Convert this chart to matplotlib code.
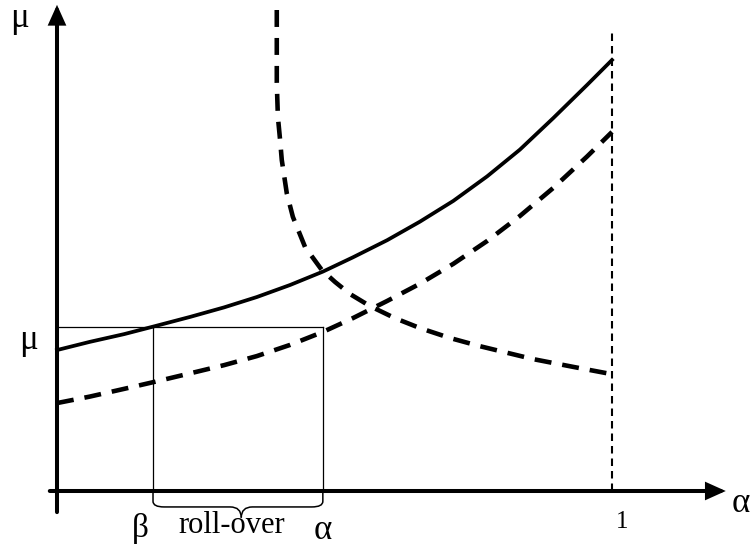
import numpy as np
import matplotlib
matplotlib.use('Agg')
import matplotlib.pyplot as plt
from matplotlib.path import Path
from matplotlib.patches import PathPatch

# curves (x: 0 at the mu axis, 1 at the dotted line)
solid_x = [0.000, 0.059, 0.121, 0.175, 0.240, 0.301, 0.360, 0.420, 0.479,
           0.533, 0.595, 0.654, 0.714, 0.775, 0.834, 0.894, 0.955, 1.000]
solid_y = [0.327, 0.346, 0.364, 0.382, 0.404, 0.426, 0.450, 0.478, 0.509,
           0.542, 0.582, 0.625, 0.673, 0.730, 0.792, 0.865, 0.942, 1.000]

dashed_x = solid_x
dashed_y = [0.204, 0.219, 0.237, 0.253, 0.273, 0.292, 0.313, 0.339, 0.369,
            0.401, 0.441, 0.481, 0.527, 0.580, 0.638, 0.703, 0.776, 0.833]

hyper_x = [0.396, 0.396, 0.396, 0.398, 0.402, 0.405, 0.414, 0.425, 0.447, 0.477,
           0.501, 0.528, 0.564, 0.609, 0.654, 0.708, 0.762, 0.858, 0.930, 1.000]
hyper_y = [1.116, 1.023, 0.947, 0.868, 0.814, 0.768, 0.691, 0.636, 0.566, 0.513,
           0.485, 0.457, 0.429, 0.401, 0.378, 0.355, 0.336, 0.306, 0.288, 0.271]

beta_x = 0.173
alpha_x = 0.479
mu_level = 0.380
one_x = 1.0
line_top = 1.07

plt.rcParams['font.family'] = ['Liberation Serif', 'DejaVu Serif']

fig = plt.figure(figsize=(7.52, 5.5), dpi=100)
ax = fig.add_axes([0, 0, 1, 1])
ax.set_xlim(-57 / 555, 695 / 555)
ax.set_ylim(-59 / 431, 491 / 431)
ax.axis('off')

# axes with arrow heads
arr = dict(arrowstyle='-|>,head_length=10,head_width=4.5', lw=2.9, color='k',
           shrinkA=0, shrinkB=0, mutation_scale=1, joinstyle='miter')
ax.annotate('', xy=(0, 1.128), xytext=(0, -0.049), arrowprops=arr)
ax.annotate('', xy=(1.205, 0), xytext=(-0.013, 0), arrowprops=arr)

# dotted vertical line at 1
ax.plot([one_x, one_x], [0, line_top], color='k', lw=1.5, dashes=(3.6, 2.4),
        dash_capstyle='butt')

# thin box for roll-over
ax.plot([0, alpha_x], [mu_level, mu_level], color='k', lw=0.9)
ax.plot([beta_x, beta_x], [0, mu_level], color='k', lw=0.9)
ax.plot([alpha_x, alpha_x], [0, mu_level], color='k', lw=0.9)

# curves
ax.plot(solid_x, solid_y, color='k', lw=2.7, solid_joinstyle='round')
ax.plot(dashed_x, dashed_y, color='k', lw=3.3, dashes=(3.7, 2.4),
        dash_capstyle='butt')
ax.plot(hyper_x, hyper_y, color='k', lw=3.3, dashes=(3.7, 2.4),
        dash_capstyle='butt')

# brace under the x axis
mid = (beta_x + alpha_x) / 2 + 0.006
d1 = 0.037
r = 0.02
for end, s in ((beta_x, 1), (alpha_x, -1)):
    p = Path([(end, 0), (end, -0.024), (end, -d1), (end + s * r, -d1),
              (mid - s * r, -d1), (mid, -d1), (mid, -d1 - 0.025)],
             [Path.MOVETO, Path.LINETO, Path.CURVE3, Path.CURVE3,
              Path.LINETO, Path.CURVE3, Path.CURVE3])
    ax.add_patch(PathPatch(p, fill=False, lw=1.1, color='k'))

# labels
ax.text(-0.067, 1.097, 'μ', fontsize=25, ha='center', va='center')
ax.text(-0.052, 0.350, 'μ', fontsize=25, ha='center', va='center')
ax.text(0.151, -0.086, 'β', fontsize=24, ha='center', va='center')
ax.text(0.315, -0.079, 'roll-over', fontsize=22, ha='center', va='center')
ax.text(0.479, -0.092, 'α', fontsize=25, ha='center', va='center')
ax.text(1.018, -0.072, '1', fontsize=18, ha='center', va='center')
ax.text(1.232, -0.028, 'α', fontsize=25, ha='center', va='center')

fig.savefig('out.png', dpi=100)
